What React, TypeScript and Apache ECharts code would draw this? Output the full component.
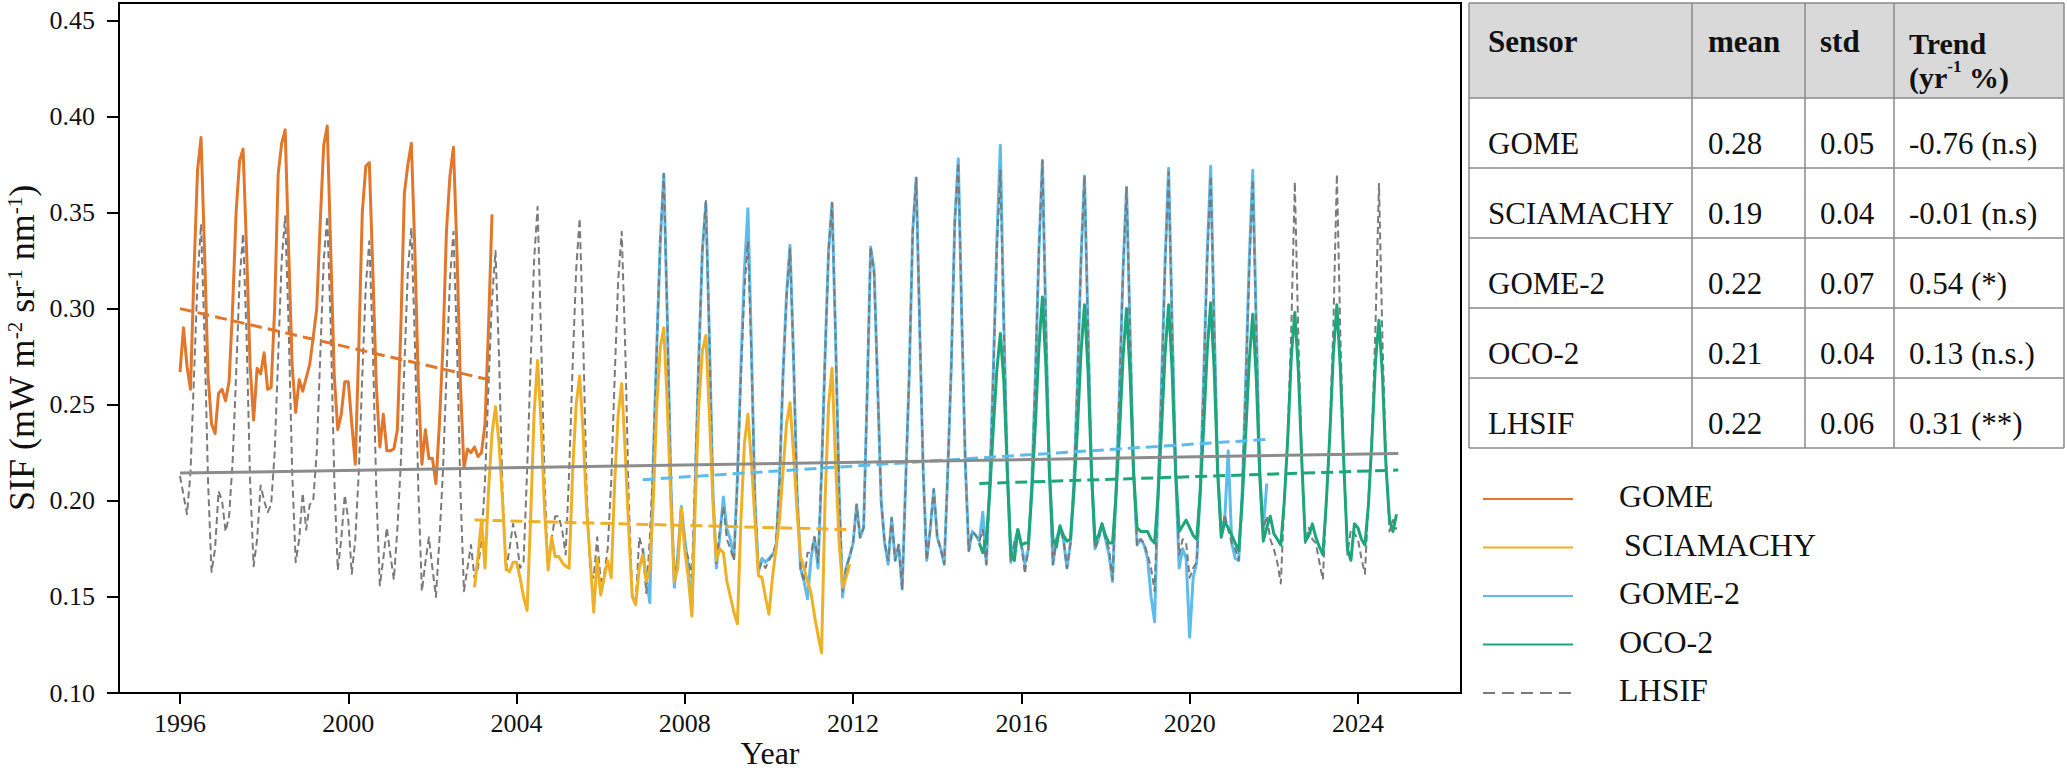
import React, { useEffect, useRef } from "react";
import * as echarts from "echarts";

const FONT = "'Liberation Serif', 'Times New Roman', serif";

// ---------- data (monthly values, Jan..Dec per row) ----------
const gomeStart = 1996;
const gomeMonthly: number[][] = [
  [0.267, 0.290, 0.270, 0.258, 0.320, 0.372, 0.389, 0.330, 0.265, 0.240, 0.235, 0.256],
  [0.258, 0.252, 0.262, 0.300, 0.350, 0.377, 0.383, 0.330, 0.270, 0.242, 0.269, 0.266],
  [0.277, 0.258, 0.259, 0.300, 0.370, 0.386, 0.393, 0.330, 0.270, 0.246, 0.263, 0.257],
  [0.264, 0.271, 0.285, 0.300, 0.345, 0.385, 0.395, 0.330, 0.265, 0.237, 0.245, 0.262],
  [0.262, 0.240, 0.219, 0.280, 0.350, 0.374, 0.376, 0.320, 0.260, 0.228, 0.245, 0.226],
  [0.226, 0.227, 0.237, 0.290, 0.360, 0.375, 0.386, 0.330, 0.260, 0.219, 0.237, 0.222],
  [0.222, 0.209, 0.240, 0.280, 0.340, 0.369, 0.384, 0.330, 0.260, 0.217, 0.227, 0.225],
  [0.228, 0.223, 0.225, 0.240, 0.290, 0.349],
];

const sciaStart = 2003;
const sciaMonthly: number[][] = [
  [0.155, 0.171, 0.190, 0.165, 0.205, 0.235, 0.249, 0.230, 0.200, 0.165, 0.163, 0.168],
  [0.168, 0.160, 0.150, 0.143, 0.190, 0.245, 0.273, 0.240, 0.195, 0.164, 0.181, 0.171],
  [0.171, 0.168, 0.166, 0.165, 0.215, 0.250, 0.265, 0.235, 0.195, 0.170, 0.142, 0.170],
  [0.151, 0.160, 0.169, 0.160, 0.210, 0.245, 0.261, 0.225, 0.185, 0.150, 0.146, 0.165],
  [0.172, 0.158, 0.165, 0.200, 0.250, 0.280, 0.290, 0.250, 0.200, 0.158, 0.165, 0.196],
  [0.174, 0.160, 0.140, 0.200, 0.250, 0.278, 0.286, 0.245, 0.200, 0.169, 0.175, 0.173],
  [0.158, 0.150, 0.142, 0.136, 0.190, 0.230, 0.245, 0.220, 0.190, 0.161, 0.160, 0.150],
  [0.141, 0.160, 0.175, 0.190, 0.215, 0.240, 0.251, 0.225, 0.195, 0.171, 0.165, 0.158],
  [0.152, 0.140, 0.130, 0.121, 0.200, 0.250, 0.269, 0.220, 0.179, 0.155, 0.160, 0.167],
];

const gome2Start = 2007;
const gome2Monthly: number[][] = [
  [0.175, 0.160, 0.147, 0.220, 0.280, 0.335, 0.370, 0.295, 0.210, 0.155, 0.172, 0.197],
  [0.180, 0.165, 0.141, 0.210, 0.275, 0.330, 0.355, 0.285, 0.205, 0.165, 0.182, 0.202],
  [0.185, 0.180, 0.170, 0.212, 0.270, 0.320, 0.352, 0.280, 0.200, 0.163, 0.170, 0.168],
  [0.170, 0.172, 0.175, 0.210, 0.265, 0.307, 0.333, 0.275, 0.205, 0.165, 0.158, 0.149],
  [0.170, 0.181, 0.165, 0.215, 0.275, 0.330, 0.355, 0.285, 0.205, 0.150, 0.165, 0.171],
  [0.178, 0.198, 0.181, 0.186, 0.255, 0.332, 0.320, 0.260, 0.200, 0.178, 0.167, 0.191],
  [0.169, 0.177, 0.154, 0.210, 0.265, 0.340, 0.368, 0.290, 0.215, 0.169, 0.185, 0.206],
  [0.181, 0.175, 0.167, 0.215, 0.270, 0.345, 0.378, 0.295, 0.220, 0.174, 0.184, 0.182],
  [0.179, 0.194, 0.167, 0.210, 0.268, 0.335, 0.385, 0.292, 0.215, 0.168, 0.178, 0.185],
  [0.177, 0.167, 0.175, 0.210, 0.265, 0.330, 0.377, 0.290, 0.215, 0.167, 0.180, 0.186],
  [0.180, 0.165, 0.178, 0.210, 0.262, 0.325, 0.369, 0.290, 0.215, 0.175, 0.180, 0.188],
  [0.180, 0.172, 0.158, 0.205, 0.258, 0.320, 0.363, 0.288, 0.215, 0.177, 0.180, 0.177],
  [0.170, 0.150, 0.137, 0.205, 0.262, 0.325, 0.373, 0.292, 0.215, 0.165, 0.175, 0.170],
  [0.129, 0.160, 0.168, 0.205, 0.264, 0.328, 0.374, 0.292, 0.215, 0.185, 0.190, 0.226],
  [0.178, 0.170, 0.169, 0.205, 0.262, 0.325, 0.372, 0.292, 0.215, 0.185, 0.209],
];

const oco2Start = 2015;
const oco2Monthly: number[][] = [
  [0.178, 0.173, 0.180, 0.205, 0.238, 0.268, 0.287, 0.262, 0.215, 0.172, 0.169, 0.185],
  [0.177, 0.178, 0.178, 0.205, 0.240, 0.280, 0.306, 0.270, 0.215, 0.180, 0.176, 0.187],
  [0.182, 0.179, 0.180, 0.205, 0.238, 0.277, 0.302, 0.268, 0.215, 0.179, 0.182, 0.188],
  [0.182, 0.178, 0.178, 0.203, 0.236, 0.275, 0.300, 0.266, 0.215, 0.186, 0.184, 0.184],
  [0.184, 0.180, 0.178, 0.203, 0.238, 0.277, 0.302, 0.268, 0.215, 0.184, 0.187, 0.190],
  [0.186, 0.182, 0.180, 0.204, 0.238, 0.278, 0.303, 0.268, 0.215, 0.181, 0.189, 0.186],
  [0.182, 0.178, 0.174, 0.200, 0.235, 0.273, 0.297, 0.264, 0.213, 0.179, 0.186, 0.192],
  [0.183, 0.180, 0.177, 0.200, 0.233, 0.275, 0.298, 0.268, 0.220, 0.179, 0.182, 0.188],
  [0.181, 0.176, 0.172, 0.200, 0.235, 0.277, 0.302, 0.268, 0.218, 0.175, 0.169, 0.188],
  [0.186, 0.180, 0.177, 0.198, 0.232, 0.272, 0.294, 0.265, 0.218, 0.190, 0.184, 0.193],
];

const lhsifStart = 1996;
const lhsifMonthly: number[][] = [
  [0.213, 0.203, 0.193, 0.215, 0.265, 0.315, 0.344, 0.285, 0.210, 0.163, 0.175, 0.205],
  [0.200, 0.184, 0.192, 0.220, 0.265, 0.315, 0.339, 0.285, 0.210, 0.166, 0.180, 0.208],
  [0.200, 0.194, 0.198, 0.225, 0.275, 0.325, 0.348, 0.290, 0.215, 0.168, 0.180, 0.204],
  [0.185, 0.198, 0.200, 0.225, 0.275, 0.325, 0.348, 0.290, 0.212, 0.164, 0.180, 0.203],
  [0.190, 0.162, 0.180, 0.215, 0.265, 0.312, 0.335, 0.280, 0.205, 0.156, 0.170, 0.186],
  [0.172, 0.159, 0.185, 0.220, 0.270, 0.320, 0.342, 0.282, 0.205, 0.153, 0.168, 0.181],
  [0.165, 0.150, 0.180, 0.215, 0.265, 0.315, 0.340, 0.282, 0.205, 0.153, 0.165, 0.177],
  [0.160, 0.165, 0.180, 0.210, 0.260, 0.305, 0.330, 0.275, 0.205, 0.164, 0.175, 0.188],
  [0.180, 0.165, 0.168, 0.215, 0.270, 0.325, 0.353, 0.285, 0.210, 0.164, 0.180, 0.192],
  [0.192, 0.185, 0.172, 0.215, 0.270, 0.320, 0.347, 0.285, 0.205, 0.163, 0.160, 0.181],
  [0.158, 0.162, 0.175, 0.210, 0.265, 0.315, 0.340, 0.280, 0.200, 0.151, 0.147, 0.181],
  [0.175, 0.152, 0.180, 0.220, 0.280, 0.335, 0.370, 0.295, 0.210, 0.158, 0.170, 0.196],
  [0.177, 0.170, 0.160, 0.215, 0.275, 0.330, 0.356, 0.285, 0.205, 0.167, 0.185, 0.197],
  [0.180, 0.175, 0.169, 0.210, 0.265, 0.310, 0.335, 0.275, 0.200, 0.164, 0.168, 0.165],
  [0.169, 0.172, 0.178, 0.210, 0.265, 0.305, 0.331, 0.275, 0.205, 0.165, 0.158, 0.173],
  [0.173, 0.181, 0.168, 0.215, 0.275, 0.330, 0.355, 0.285, 0.205, 0.153, 0.165, 0.171],
  [0.178, 0.198, 0.181, 0.186, 0.255, 0.332, 0.318, 0.260, 0.200, 0.178, 0.169, 0.191],
  [0.169, 0.177, 0.154, 0.210, 0.265, 0.340, 0.368, 0.290, 0.215, 0.169, 0.185, 0.206],
  [0.181, 0.175, 0.167, 0.215, 0.270, 0.345, 0.376, 0.295, 0.220, 0.174, 0.184, 0.182],
  [0.179, 0.185, 0.167, 0.210, 0.265, 0.330, 0.372, 0.290, 0.215, 0.168, 0.178, 0.185],
  [0.177, 0.162, 0.175, 0.210, 0.265, 0.330, 0.377, 0.290, 0.215, 0.167, 0.180, 0.186],
  [0.180, 0.165, 0.178, 0.210, 0.262, 0.325, 0.369, 0.290, 0.215, 0.175, 0.180, 0.188],
  [0.180, 0.175, 0.159, 0.205, 0.258, 0.320, 0.363, 0.288, 0.215, 0.177, 0.180, 0.178],
  [0.172, 0.165, 0.153, 0.205, 0.260, 0.322, 0.371, 0.290, 0.215, 0.172, 0.180, 0.178],
  [0.160, 0.165, 0.168, 0.205, 0.262, 0.325, 0.369, 0.290, 0.215, 0.181, 0.193, 0.185],
  [0.178, 0.175, 0.169, 0.205, 0.260, 0.320, 0.367, 0.288, 0.215, 0.185, 0.192, 0.180],
  [0.175, 0.168, 0.157, 0.200, 0.235, 0.290, 0.366, 0.285, 0.222, 0.178, 0.186, 0.180],
  [0.178, 0.168, 0.159, 0.200, 0.237, 0.292, 0.370, 0.285, 0.220, 0.172, 0.185, 0.183],
  [0.180, 0.170, 0.162, 0.200, 0.235, 0.290, 0.365, 0.283, 0.222, 0.184, 0.190, 0.185],
];

// linear trend lines: [start year, start value], [end year, end value]
const trendGome: number[][] = [[1996.0, 0.300], [2003.35, 0.263]];
const trendScia: number[][] = [[2003.0, 0.190], [2011.93, 0.185]];
const trendGome2: number[][] = [[2007.0, 0.211], [2021.87, 0.232]];
const trendOco2: number[][] = [[2015.0, 0.209], [2024.96, 0.216]];
const trendLhsif: number[][] = [[1996.0, 0.2144], [2024.96, 0.2246]];

// axis ticks
const xTicks = [1996, 2000, 2004, 2008, 2012, 2016, 2020, 2024];
const yTicks = [0.10, 0.15, 0.20, 0.25, 0.30, 0.35, 0.40, 0.45];

// table
const tableSensors = ["GOME", "SCIAMACHY", "GOME-2", "OCO-2", "LHSIF"];
const tableMeans = ["0.28", "0.19", "0.22", "0.21", "0.22"];
const tableStds = ["0.05", "0.04", "0.07", "0.04", "0.06"];
const tableTrends = ["-0.76 (n.s)", "-0.01 (n.s)", "0.54 (*)", "0.13 (n.s.)", "0.31 (**)"];

// legend
const legendNames = ["GOME", "SCIAMACHY", "GOME-2", "OCO-2", "LHSIF"];

const C_GOME = "#E2762A";
const C_SCIA = "#EEB027";
const C_GOME2 = "#5DBCEB";
const C_OCO2 = "#1DA67A";
const C_LHSIF = "#7A7A7A";
const C_LTREND = "#8C8C8C";
const legendColors = [C_GOME, C_SCIA, C_GOME2, C_OCO2, C_LHSIF];

function toPoints(start: number, rows: number[][]): number[][] {
  const pts: number[][] = [];
  rows.forEach((row, yi) => {
    row.forEach((v, m) => {
      pts.push([start + yi + m / 12, v]);
    });
  });
  return pts;
}

function line(name: string, data: number[][], color: string, width: number, type: any, z: number) {
  return {
    type: "line",
    name,
    data,
    showSymbol: false,
    symbol: "none",
    smooth: false,
    silent: true,
    z,
    lineStyle: { color, width, type, cap: "butt", join: "round" },
    emphasis: { disabled: true },
  };
}

function buildGraphic(): any[] {
  const g: any[] = [];
  // y axis title
  g.push({
    type: "text",
    x: 22,
    y: 348,
    rotation: Math.PI / 2,
    style: {
      text: "{m|SIF (mW m}{s|-2}{m| sr}{s|-1}{m| nm}{s|-1}{m|)}",
      align: "center",
      verticalAlign: "middle",
      fill: "#111",
      rich: {
        m: { fontSize: 36, fontFamily: FONT, fill: "#111", verticalAlign: "bottom" },
        s: { fontSize: 21, fontFamily: FONT, fill: "#111", verticalAlign: "top" },
      },
    },
  });
  // x axis title
  g.push({
    type: "text",
    x: 770,
    y: 753,
    style: { text: "Year", fontSize: 32, fontFamily: FONT, fill: "#111", align: "center", verticalAlign: "middle" },
  });

  // legend
  const legY = [499, 547.5, 596, 644.5, 693];
  legendNames.forEach((n, i) => {
    g.push({
      type: "line",
      shape: { x1: 1483, y1: legY[i], x2: 1573, y2: legY[i] },
      style: {
        stroke: legendColors[i],
        lineWidth: 2,
        lineDash: n === "LHSIF" ? [12, 7] : null,
      },
    });
    g.push({
      type: "text",
      x: n === "SCIAMACHY" ? 1624 : 1619,
      y: legY[i] - 3,
      style: { text: n, fontSize: 32, fontFamily: FONT, fill: "#111", align: "left", verticalAlign: "middle" },
    });
  });

  // table
  const cols = [1469, 1692, 1805, 1894, 2064];
  const rows = [3, 98, 168, 238, 308, 378, 448];
  const tx = [1488, 1708, 1820, 1909];
  g.push({
    type: "rect",
    shape: { x: cols[0], y: rows[0], width: cols[4] - cols[0], height: rows[1] - rows[0] },
    style: { fill: "#D9D9D9" },
  });
  rows.forEach((y) => {
    g.push({
      type: "line",
      shape: { x1: cols[0], y1: y, x2: cols[4], y2: y },
      style: { stroke: "#8A8A8A", lineWidth: 1.5 },
    });
  });
  cols.forEach((x) => {
    g.push({
      type: "line",
      shape: { x1: x, y1: rows[0], x2: x, y2: rows[rows.length - 1] },
      style: { stroke: "#8A8A8A", lineWidth: 1.5 },
    });
  });
  const headers = ["Sensor", "mean", "std"];
  headers.forEach((h, i) => {
    g.push({
      type: "text",
      x: tx[i],
      y: 41,
      style: { text: h, fontSize: 31, fontWeight: "bold", fontFamily: FONT, fill: "#111", align: "left", verticalAlign: "middle" },
    });
  });
  // two-line header "Trend (yr-1 %)"
  g.push({
    type: "text",
    x: tx[3],
    y: 24,
    style: {
      text: "{b|Trend}\n{b|(yr}{s|-1}{b| %)}",
      align: "left",
      verticalAlign: "top",
      rich: {
        b: { fontSize: 30, fontWeight: "bold", fontFamily: FONT, fill: "#111", lineHeight: 34, verticalAlign: "bottom" },
        s: { fontSize: 17, fontWeight: "bold", fontFamily: FONT, fill: "#111", lineHeight: 34, verticalAlign: "top" },
      },
    },
  });
  for (let r = 0; r < tableSensors.length; r++) {
    const cy = rows[r + 1] + 45;
    const cells = [tableSensors[r], tableMeans[r], tableStds[r], tableTrends[r]];
    cells.forEach((c, i) => {
      g.push({
        type: "text",
        x: tx[i],
        y: cy,
        style: { text: c, fontSize: 31, fontFamily: FONT, fill: "#111", align: "left", verticalAlign: "middle" },
      });
    });
  }
  return g;
}

function buildOption(): any {
  const dash: number[] = [7, 4];
  const tdash: number[] = [12, 6];
  return {
    animation: false,
    backgroundColor: "#ffffff",
    grid: {
      left: 119,
      top: 3,
      width: 1342,
      height: 690,
      show: true,
      borderColor: "#000",
      borderWidth: 2,
      backgroundColor: "transparent",
      containLabel: false,
    },
    xAxis: {
      type: "value",
      min: 1994.55,
      max: 2026.45,
      splitLine: { show: false },
      axisLine: { show: true, onZero: false, lineStyle: { color: "#000", width: 2 } },
      axisTick: { show: true, inside: false, length: 11, customValues: xTicks, lineStyle: { color: "#000", width: 2 } },
      axisLabel: {
        show: true,
        customValues: xTicks,
        formatter: (v: number) => String(Math.round(v)),
        fontSize: 26,
        fontFamily: FONT,
        color: "#111",
        margin: 17,
      },
    },
    yAxis: {
      type: "value",
      min: 0.1,
      max: 0.459,
      splitLine: { show: false },
      axisLine: { show: true, onZero: false, lineStyle: { color: "#000", width: 2 } },
      axisTick: { show: true, inside: false, length: 12, customValues: yTicks, lineStyle: { color: "#000", width: 2 } },
      axisLabel: {
        show: true,
        customValues: yTicks,
        formatter: (v: number) => v.toFixed(2),
        fontSize: 26,
        fontFamily: FONT,
        color: "#111",
        margin: 24,
      },
    },
    series: [
      line("GOME-2", toPoints(gome2Start, gome2Monthly), C_GOME2, 3, "solid", 2),
      line("GOME", toPoints(gomeStart, gomeMonthly), C_GOME, 3, "solid", 3),
      line("LHSIF", toPoints(lhsifStart, lhsifMonthly), C_LHSIF, 2, dash, 4),
      line("SCIAMACHY", toPoints(sciaStart, sciaMonthly), C_SCIA, 3, "solid", 5),
      line("OCO-2", toPoints(oco2Start, oco2Monthly), C_OCO2, 3, "solid", 6),
      line("GOME trend", trendGome, C_GOME, 3, tdash, 7),
      line("SCIAMACHY trend", trendScia, C_SCIA, 3, tdash, 7),
      line("GOME-2 trend", trendGome2, C_GOME2, 3, tdash, 7),
      line("OCO-2 trend", trendOco2, C_OCO2, 3, tdash, 7),
      line("LHSIF trend", trendLhsif, C_LTREND, 3, "solid", 7),
    ],
    graphic: buildGraphic(),
  };
}

export default function App() {
  const ref = useRef<HTMLDivElement>(null);
  useEffect(() => {
    if (!ref.current) return;
    const chart = echarts.init(ref.current, null, { renderer: "svg" });
    chart.setOption(buildOption());
    return () => {
      chart.dispose();
    };
  }, []);
  return (
    <div
      ref={ref}
      style={{ position: "fixed", left: 0, top: 0, width: 2067, height: 774, background: "#fff" }}
    />
  );
}
